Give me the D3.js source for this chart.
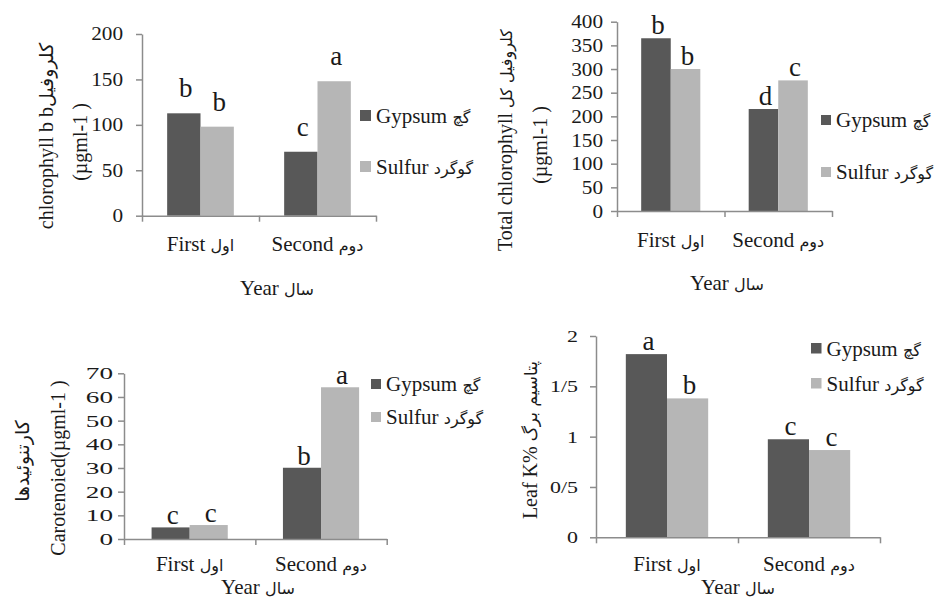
<!DOCTYPE html>
<html>
<head>
<meta charset="utf-8">
<script src="https://cdn.jsdelivr.net/npm/d3@7"></script>
<style>
  body { margin: 0; background: #fff; }
  svg text { font-family: "Liberation Serif", serif; fill: #1a1a1a; }
</style>
</head>
<body>
<div id="chart"></div>
<script>
// categories shared by all four panels
const years = ["First اول", "Second دوم"];
const treatments = ["Gypsum گچ", "Sulfur گوگرد"];
const yearTitle = "Year سال";

// chlorophyll b
const chlBGypsum = [112.7, 70.4];
const chlBSulfur = [98, 148];
const chlBGypsumLetters = ["b", "c"];
const chlBSulfurLetters = ["b", "a"];
const chlBTicks = [0, 50, 100, 150, 200];

// total chlorophyll
const totalGypsum = [365, 215.5];
const totalSulfur = [300, 276];
const totalGypsumLetters = ["b", "d"];
const totalSulfurLetters = ["b", "c"];
const totalTicks = [0, 50, 100, 150, 200, 250, 300, 350, 400];

// carotenoids
const carGypsum = [4.9, 30.1];
const carSulfur = [5.9, 64.1];
const carGypsumLetters = ["c", "b"];
const carSulfurLetters = ["c", "a"];
const carTicks = [0, 10, 20, 30, 40, 50, 60, 70];

// leaf K %
const kGypsum = [1.82, 0.974];
const kSulfur = [1.38, 0.867];
const kGypsumLetters = ["a", "c"];
const kSulfurLetters = ["b", "c"];
const kTicks = [0, 0.5, 1, 1.5, 2];
const kTickLabels = ["0", "0/5", "1", "1/5", "2"];

const colors = ["#585858", "#b6b6b6"];
const axisColor = "#8c8c8c";

const svg = d3.select("#chart")
  .append("svg")
  .attr("width", 939)
  .attr("height", 601);

// write a label as a latin run + a persian run (each with its own font)
function mixedText(sel, str, pSize) {
  const k = str.search(/[\u0600-\u06FF]/);
  const latin = k < 0 ? str : str.slice(0, k);
  const persian = k < 0 ? "" : str.slice(k);
  if (latin) sel.append("tspan")
    .style("font-family", "'Liberation Serif', serif")
    .text(latin);
  if (persian) sel.append("tspan")
    .style("font-family", "'DejaVu Sans', sans-serif")
    .attr("font-size", pSize + "px")
    .text(persian);
  return sel;
}

// layout of each panel (pixels)
const panels = [
  {gypsum: chlBGypsum, sulfur: chlBSulfur, gLet: chlBGypsumLetters, sLet: chlBSulfurLetters,
   ticks: chlBTicks, labels: null,
   x0: 142, x1: 376, y0: 215.7, yTop: 34, pad: 0.215,
   tickFont: 18, tickSx: 1.18, tickGap: 19, letterOff: 16,
   legX: 360, legY: [110, 161], legSize: 11,
   titles: [{t: "chlorophyll b bکلروفیل", x: 46, y: 136, ps: 19}, {t: "(µgml-1 )", x: 80, y: 142, ps: 16}],
   xLabelY: 251, yearX: 277, yearY: 295},
  {gypsum: totalGypsum, sulfur: totalSulfur, gLet: totalGypsumLetters, sLet: totalSulfurLetters,
   ticks: totalTicks, labels: null,
   x0: 617, x1: 832, y0: 211, yTop: 21.7, pad: 0.225,
   tickFont: 19.5, tickSx: 1.09, tickGap: 14, letterOff: 4,
   legX: 821, legY: [115, 167], legSize: 10,
   titles: [{t: "Total chlorophyll کلروفیل کل", x: 505, y: 140, ps: 16}, {t: "(µgml-1 )", x: 540, y: 145, ps: 16}],
   xLabelY: 247, yearX: 727, yearY: 290},
  {gypsum: carGypsum, sulfur: carSulfur, gLet: carGypsumLetters, sLet: carSulfurLetters,
   ticks: carTicks, labels: null,
   x0: 124, x1: 386.7, y0: 539, yTop: 373.3, pad: 0.21,
   tickFont: 17, tickSx: 1.6, tickGap: 11, letterOff: 3,
   legX: 371, legY: [379, 412], legSize: 10,
   titles: [{t: "Carotenoied(µgml-1 )", x: 58, y: 468, ps: 16}, {t: "کارتنوئیدها", x: 22, y: 461, ps: 19}],
   xLabelY: 571, yearX: 258, yearY: 594},
  {gypsum: kGypsum, sulfur: kSulfur, gLet: kGypsumLetters, sLet: kSulfurLetters,
   ticks: kTicks, labels: kTickLabels,
   x0: 596, x1: 880, y0: 537.3, yTop: 336, pad: 0.21,
   tickFont: 17, tickSx: 1.29, tickGap: 18, letterOff: 4,
   legX: 811, legY: [343, 378], legSize: 10.5,
   titles: [{t: "Leaf K% پتاسیم برگ", x: 530, y: 440, ps: 17}],
   xLabelY: 571, yearX: 738, yearY: 594}
];

panels.forEach(p => {
  const g = svg.append("g");

  // scales
  const y = d3.scaleLinear()
    .domain([0, d3.max(p.ticks)])
    .range([p.y0, p.yTop]);

  const xYear = d3.scaleBand()
    .domain(years)
    .range([p.x0, p.x1])
    .padding(0);

  const bw = xYear.bandwidth();
  const xSer = d3.scaleBand()
    .domain([0, 1])
    .range([p.pad * bw, bw - p.pad * bw])
    .padding(0);

  // bars
  const rows = [];
  years.forEach((yr, i) => {
    rows.push({year: yr, s: 0, v: p.gypsum[i], letter: p.gLet[i]});
    rows.push({year: yr, s: 1, v: p.sulfur[i], letter: p.sLet[i]});
  });

  g.selectAll(".bar")
    .data(rows)
    .enter()
    .append("rect")
    .attr("class", "bar")
    .attr("x", d => xYear(d.year) + xSer(d.s))
    .attr("y", d => y(d.v))
    .attr("width", xSer.bandwidth())
    .attr("height", d => p.y0 - y(d.v))
    .attr("fill", d => colors[d.s]);

  // significance letters
  g.selectAll(".letter")
    .data(rows)
    .enter()
    .append("text")
    .attr("class", "letter")
    .attr("x", d => xYear(d.year) + xSer(d.s) + xSer.bandwidth() / 2 + 2)
    .attr("y", d => y(d.v) - p.letterOff)
    .attr("text-anchor", "middle")
    .attr("font-size", "27px")
    .text(d => d.letter);

  // y axis
  const yAxis = g.append("g")
    .attr("transform", `translate(${p.x0},0)`)
    .call(d3.axisLeft(y)
      .tickValues(p.ticks)
      .tickFormat((d, i) => p.labels ? p.labels[i] : d)
      .tickSize(6)
      .tickSizeOuter(0));
  yAxis.select(".domain").attr("stroke", axisColor).attr("stroke-width", 1.5);
  yAxis.selectAll(".tick line").attr("stroke", axisColor).attr("stroke-width", 1.5);
  yAxis.selectAll(".tick text")
    .attr("font-size", p.tickFont + "px")
    .attr("x", -p.tickGap / p.tickSx)
    .attr("transform", `scale(${p.tickSx},1)`);

  // x axis line with ticks on group boundaries
  const xb = d3.scaleLinear().domain([0, years.length]).range([p.x0, p.x1]);
  const xAxis = g.append("g")
    .attr("transform", `translate(0,${p.y0})`)
    .call(d3.axisBottom(xb)
      .tickValues(d3.range(years.length + 1))
      .tickFormat("")
      .tickSize(6)
      .tickSizeOuter(0));
  xAxis.select(".domain").attr("stroke", axisColor).attr("stroke-width", 1.5);
  xAxis.selectAll(".tick line").attr("stroke", axisColor).attr("stroke-width", 1.5);

  // category labels
  years.forEach(yr => {
    const t = g.append("text")
      .attr("x", xYear(yr) + bw / 2)
      .attr("y", p.xLabelY)
      .attr("text-anchor", "middle")
      .attr("font-size", "21px");
    mixedText(t, yr, 16);
  });

  // x title
  const yt = g.append("text")
    .attr("x", p.yearX)
    .attr("y", p.yearY)
    .attr("text-anchor", "middle")
    .attr("font-size", "21px");
  mixedText(yt, yearTitle, 16);

  // y titles
  p.titles.forEach(t => {
    const tt = g.append("text")
      .attr("transform", `translate(${t.x},${t.y}) rotate(-90)`)
      .attr("text-anchor", "middle")
      .attr("dy", "0.35em")
      .attr("font-size", "20px");
    mixedText(tt, t.t, t.ps);
  });

  // legend
  treatments.forEach((name, i) => {
    g.append("rect")
      .attr("x", p.legX)
      .attr("y", p.legY[i])
      .attr("width", p.legSize)
      .attr("height", p.legSize)
      .attr("fill", colors[i]);
    const lt = g.append("text")
      .attr("x", p.legX + p.legSize + 5)
      .attr("y", p.legY[i] + p.legSize / 2)
      .attr("dy", "0.35em")
      .attr("font-size", "21px");
    mixedText(lt, name, 16);
  });
});
</script>
</body>
</html>
